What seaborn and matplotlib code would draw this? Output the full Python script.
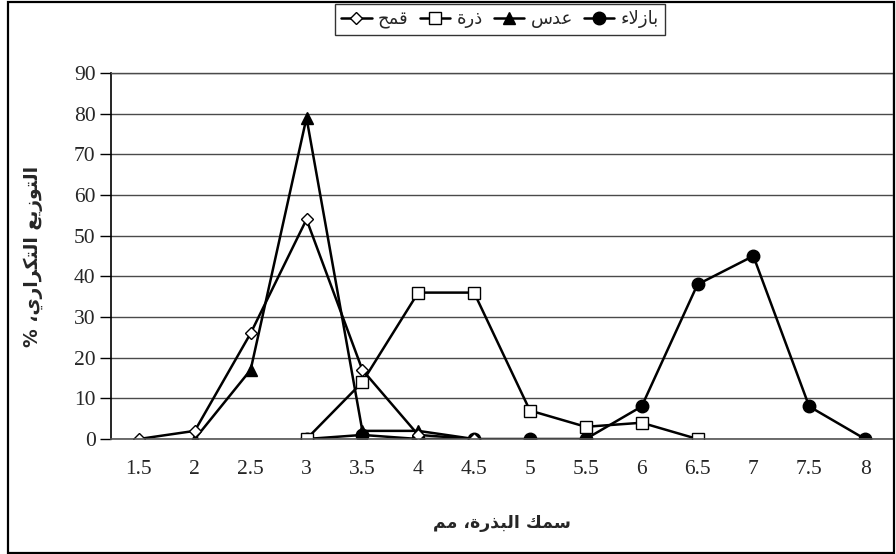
import matplotlib
matplotlib.use("Agg")
import matplotlib.pyplot as plt
import seaborn as sns
from matplotlib.patches import Rectangle
from matplotlib.ticker import FixedLocator

# ==============================
# Dados
# ==============================
thickness = [1.5, 2, 2.5, 3, 3.5, 4, 4.5, 5, 5.5, 6, 6.5, 7, 7.5, 8]
thickness_labels = ["1.5", "2", "2.5", "3", "3.5", "4", "4.5", "5", "5.5", "6", "6.5", "7", "7.5", "8"]

wheat_x = [1.5, 2, 2.5, 3, 3.5, 4, 4.5]
wheat = [0, 2, 26, 54, 17, 1, 0]

corn_x = [3, 3.5, 4, 4.5, 5, 5.5, 6, 6.5]
corn = [0, 14, 36, 36, 7, 3, 4, 0]

lentil_x = [2, 2.5, 3, 3.5, 4, 4.5]
lentil = [0, 17, 79, 2, 2, 0]

peas_x = [3, 3.5, 4, 4.5, 5, 5.5, 6, 6.5, 7, 7.5, 8]
peas = [0, 1, 0, 0, 0, 0, 8, 38, 45, 8, 0]

# ==============================
# Arabe: matplotlib nao faz a ligacao das letras,
# entao usamos as formas de apresentacao e invertemos a ordem
# ==============================
FORMS = {
    "ا": ("\uFE8D", "\uFE8E", None, None),
    "ب": ("\uFE8F", "\uFE90", "\uFE91", "\uFE92"),
    "ت": ("\uFE95", "\uFE96", "\uFE97", "\uFE98"),
    "ة": ("\uFE93", "\uFE94", None, None),
    "ح": ("\uFEA1", "\uFEA2", "\uFEA3", "\uFEA4"),
    "د": ("\uFEA9", "\uFEAA", None, None),
    "ذ": ("\uFEAB", "\uFEAC", None, None),
    "ر": ("\uFEAD", "\uFEAE", None, None),
    "ز": ("\uFEAF", "\uFEB0", None, None),
    "س": ("\uFEB1", "\uFEB2", "\uFEB3", "\uFEB4"),
    "ع": ("\uFEC9", "\uFECA", "\uFECB", "\uFECC"),
    "ق": ("\uFED5", "\uFED6", "\uFED7", "\uFED8"),
    "ك": ("\uFED9", "\uFEDA", "\uFEDB", "\uFEDC"),
    "ل": ("\uFEDD", "\uFEDE", "\uFEDF", "\uFEE0"),
    "م": ("\uFEE1", "\uFEE2", "\uFEE3", "\uFEE4"),
    "و": ("\uFEED", "\uFEEE", None, None),
    "ي": ("\uFEF1", "\uFEF2", "\uFEF3", "\uFEF4"),
    "ء": ("\uFE80", None, None, None),
}


def shape(text):
    out = []
    n = len(text)
    i = 0
    while i < n:
        ch = text[i]
        if ch not in FORMS:
            out.append(ch)
            i += 1
            continue
        prev = text[i - 1] if i > 0 else ""
        prev_joins = prev in FORMS and FORMS[prev][2] is not None
        # ligadura lam-alef
        if ch == "ل" and i + 1 < n and text[i + 1] == "ا":
            out.append("\uFEFC" if prev_joins else "\uFEFB")
            i += 2
            continue
        iso, fin, ini, med = FORMS[ch]
        nxt = text[i + 1] if i + 1 < n else ""
        next_joins = ini is not None and nxt in FORMS and FORMS[nxt][1] is not None
        if fin is None:
            prev_joins = False
        if prev_joins and next_joins:
            out.append(med)
        elif prev_joins:
            out.append(fin)
        elif next_joins:
            out.append(ini)
        else:
            out.append(iso)
        i += 1
    return "".join(reversed(out))


# ==============================
# Configurações iniciais
# ==============================
sns.set_theme(style="white")
plt.rcParams["font.family"] = ["Liberation Serif", "DejaVu Sans"]

fig = plt.figure(figsize=(8.96, 5.54), dpi=100)
ax = fig.add_axes([111 / 896, 1 - 439 / 554, 782 / 896, 366 / 554])

line_kw = dict(color="black", linewidth=1.8, markeredgecolor="black", markeredgewidth=1.0)

sns.lineplot(x=peas_x, y=peas, marker="o", markersize=9, markerfacecolor="black",
             label=shape("بازلاء"), ax=ax, **line_kw)
sns.lineplot(x=lentil_x, y=lentil, marker="^", markersize=9, markerfacecolor="black",
             label=shape("عدس"), ax=ax, **line_kw)
sns.lineplot(x=corn_x, y=corn, marker="s", markersize=9, markerfacecolor="white",
             label=shape("ذرة"), ax=ax, **line_kw)
sns.lineplot(x=wheat_x, y=wheat, marker="D", markersize=6.5, markerfacecolor="white",
             label=shape("قمح"), ax=ax, **line_kw)

# eixo Y
ax.set_ylim(0, 90)
ax.set_yticks(range(0, 91, 10))
ax.yaxis.grid(True, color="#4a4a4a", linewidth=1.0)
ax.set_axisbelow(True)

# eixo X (categorias, marcas entre categorias)
ax.set_xlim(1.25, 8.25)
ax.set_xticks(thickness)
ax.set_xticklabels(thickness_labels)
ax.xaxis.set_minor_locator(FixedLocator([t - 0.25 for t in thickness] + [8.25]))
ax.tick_params(axis="x", which="major", length=0, pad=15, labelsize=15.5)
ax.tick_params(axis="x", which="minor", length=7, width=1.0, color="#333333", direction="out")
ax.tick_params(axis="y", which="major", length=8, width=1.0, color="black", direction="out",
               pad=3, labelsize=15.5, left=True)

for side in ["top", "right", "bottom", "left"]:
    ax.spines[side].set_visible(True)
ax.spines["left"].set_color("black")
ax.spines["left"].set_linewidth(1.2)
ax.spines["bottom"].set_color("#555555")
ax.spines["bottom"].set_linewidth(1.2)
ax.spines["top"].set_color("#4a4a4a")
ax.spines["top"].set_linewidth(1.0)
ax.spines["right"].set_color("#a0a0a0")
ax.spines["right"].set_linewidth(1.0)

ax.set_xlabel(shape("سمك البذرة، مم"), fontsize=12.5, fontweight="bold",
              family="DejaVu Sans", labelpad=25)
ax.set_ylabel(shape("التوزيع التكراري، %"), fontsize=13.5, fontweight="bold",
              family="DejaVu Sans", labelpad=22)

# legenda no topo, ordem da esquerda para a direita
handles, labels = ax.get_legend_handles_labels()
ax.get_legend().remove()
order = [3, 2, 1, 0]
leg = fig.legend([handles[i] for i in order], [labels[i] for i in order],
                 loc="upper center", bbox_to_anchor=(500 / 896, 1 - 4 / 554), ncol=4,
                 frameon=True, fancybox=False, shadow=False,
                 prop={"family": "DejaVu Sans", "size": 13},
                 handlelength=1.7, handletextpad=0.35, columnspacing=0.6,
                 borderpad=0.35, borderaxespad=0)
leg.get_frame().set_edgecolor("black")
leg.get_frame().set_linewidth(1.0)

# moldura externa
fig.patches.append(Rectangle((8 / 896, 1.5 / 554), 886 / 896, 551 / 554, transform=fig.transFigure,
                             fill=False, edgecolor="black", linewidth=1.6))

fig.savefig("out.png", dpi=100)
